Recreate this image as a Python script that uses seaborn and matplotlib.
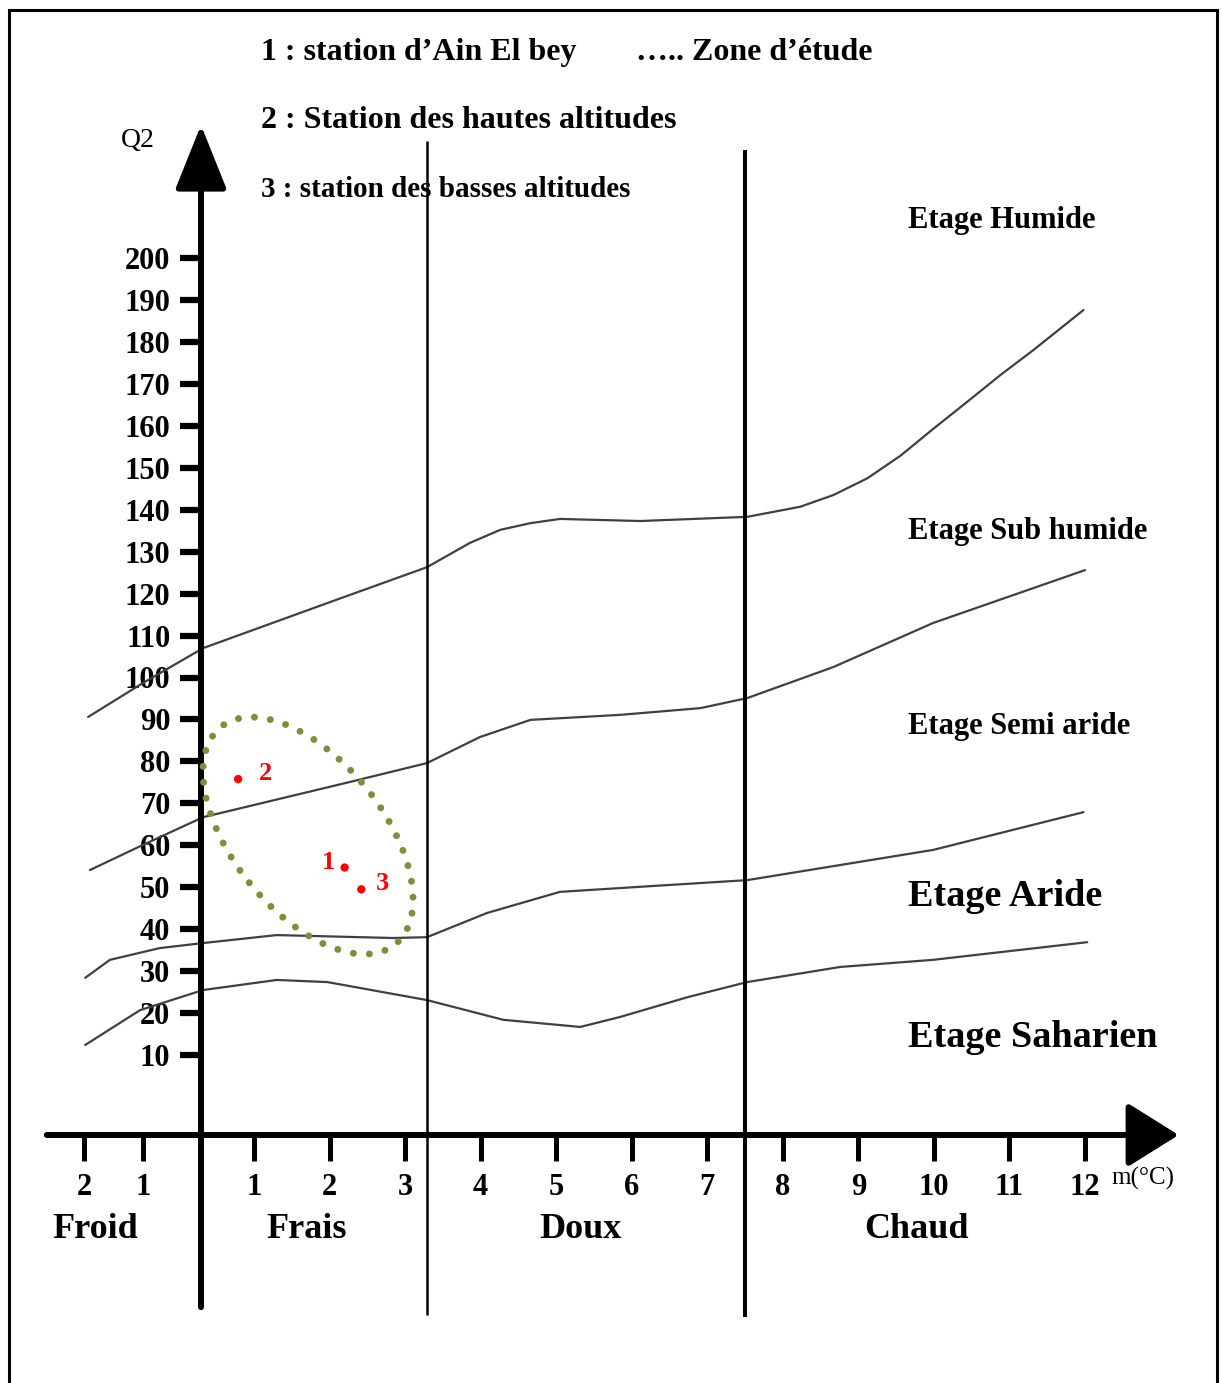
import numpy as np
import pandas as pd
import matplotlib
matplotlib.use("Agg")
import matplotlib.pyplot as plt
from matplotlib import transforms
from matplotlib.patches import Ellipse, Rectangle
import seaborn as sns

# --- Climagramme d'Emberger : limites des étages (m en °C, Q2) ---
m_humide = [-1.93, -1.0, 0.04, 2.01, 3.29, 3.86, 4.26, 4.66, 5.05, 6.11, 7.53,
            8.23, 8.67, 9.12, 9.56, 10.00, 10.44, 10.88, 11.32, 11.98]
q2_humide = [90.6, 98.7, 107.0, 118.0, 126.3, 132.1, 135.2, 136.8, 137.8, 137.3, 138.3,
             140.7, 143.5, 147.5, 152.9, 159.4, 165.7, 172.1, 178.1, 187.6]

m_subhumide = [-1.90, -1.0, 0.04, 2.27, 3.29, 3.99, 4.66, 5.85, 6.91, 7.53, 8.67, 9.99, 12.0]
q2_subhumide = [54.1, 60.1, 66.7, 75.1, 79.6, 85.8, 89.9, 91.1, 92.7, 95.1, 102.5, 113.0, 125.6]

m_semiaride = [-1.98, -1.56, -0.71, 0.04, 1.30, 2.84, 3.29, 4.09, 5.05, 6.28, 7.53, 8.76, 9.99, 11.98]
q2_semiaride = [28.4, 32.7, 35.5, 36.7, 38.6, 37.9, 38.1, 43.9, 48.9, 50.3, 51.7, 55.3, 58.9, 67.9]

m_aride = [-1.98, -1.05, 0.04, 1.30, 1.97, 3.29, 4.30, 5.32, 5.85, 6.74, 7.53, 8.76, 9.99, 12.03]
q2_aride = [12.4, 20.7, 25.5, 27.9, 27.4, 23.1, 18.4, 16.7, 19.1, 23.8, 27.4, 31.0, 32.7, 36.9]

# stations
station_num = ["1", "2", "3"]
station_m = [2.20, 0.70, 2.42]
station_q2 = [54.7, 75.8, 49.5]

# graduations
x_ticks = [-2, -1, 1, 2, 3, 4, 5, 6, 7, 8, 9, 10, 11, 12]
x_ticklabels = ["2", "1", "1", "2", "3", "4", "5", "6", "7", "8", "9", "10", "11", "12"]
y_ticks = list(range(10, 201, 10))

# limites thermiques (variantes de l'hiver)
limites_m = [3.29, 7.50]
variantes = ["Froid", "Frais", "Doux", "Chaud"]
variantes_m = [-1.81, 1.70, 5.32, 9.77]

etages = ["Etage Humide", "Etage Sub humide", "Etage Semi aride", "Etage Aride", "Etage Saharien"]
etages_q2 = [207.2, 133.0, 86.5, 45.5, 11.9]
etages_size = [22, 22, 22, 27.5, 27.5]

sns.set_theme(style="white")
plt.rcParams["font.family"] = ["Liberation Serif", "DejaVu Serif"]
plt.rcParams["text.color"] = "black"

W, H = 1222, 1383
fig = plt.figure(figsize=(W / 100, H / 100), dpi=100)
fig.patch.set_facecolor("white")
ax = fig.add_axes([0, 0, 1, 1])
ax.set_facecolor("white")

# axe des m : pas plus serré du côté des valeurs négatives
KNOT_M = np.array([-60.0, -2.0, -1.0, 0.0, 1.0, 12.0, 60.0])
KNOT_U = np.array([84 - 58 * 59.0, 84.0, 143.0, 201.0, 254.0, 1085.0, 1085 + 48 * 75.545])


def fwd(m):
    return np.interp(m, KNOT_M, KNOT_U)


def inv(u):
    return np.interp(u, KNOT_U, KNOT_M)


ax.set_xscale("function", functions=(fwd, inv))
ax.set_xlim(inv(0), inv(W))
ax.set_ylim(-286 / 4.195, (H - 286) / 4.195)

Y_AXIS = -9.06  # hauteur de l'axe des m

# courbes limites
frames = []
for name, mm, qq in [("humide", m_humide, q2_humide), ("subhumide", m_subhumide, q2_subhumide),
                     ("semiaride", m_semiaride, q2_semiaride), ("aride", m_aride, q2_aride)]:
    frames.append(pd.DataFrame({"m": mm, "Q2": qq, "limite": name}))
courbes = pd.concat(frames, ignore_index=True)
sns.lineplot(data=courbes, x="m", y="Q2", units="limite", estimator=None, sort=False,
             color="#404040", lw=1.6, legend=False, ax=ax, zorder=2)
for ln in ax.lines:
    ln.set_solid_joinstyle("round")

# limites verticales
ax.vlines(limites_m, ymin=[-52.0, -52.5], ymax=[228.0, 225.7], colors="black",
          linewidths=[1.8, 2.9], zorder=3)

# axes fléchés
ax.annotate("", xy=(0, 231.7), xytext=(0, -50.1),
            arrowprops=dict(arrowstyle="-|>,head_length=4.0,head_width=1.6", lw=4.3,
                            color="black", shrinkA=0, shrinkB=0, mutation_scale=10), zorder=4)
ax.annotate("", xy=(13.24, Y_AXIS), xytext=(-2.63, Y_AXIS),
            arrowprops=dict(arrowstyle="-|>,head_length=3.2,head_width=2.0", lw=4.3,
                            color="black", shrinkA=0, shrinkB=0, mutation_scale=10), zorder=4)

for s in ax.spines.values():
    s.set_visible(False)
ax.spines["left"].set_position(("data", 0))
ax.spines["bottom"].set_position(("data", Y_AXIS))

ax.set_xticks(x_ticks)
ax.set_xticklabels(x_ticklabels)
ax.set_yticks(y_ticks)
ax.set_yticklabels([str(v) for v in y_ticks])
ax.tick_params(axis="x", bottom=True, direction="out", length=19, width=3.6, pad=8,
               labelsize=22, color="black", labelcolor="black")
ax.tick_params(axis="y", left=True, direction="out", length=15, width=4.5, pad=7,
               labelsize=22, color="black", labelcolor="black")
for lab in ax.get_xticklabels() + ax.get_yticklabels():
    lab.set_fontweight("bold")
ax.grid(False)

ax.text(-1.08, 228.1, "Q2", fontsize=20, ha="center", va="center", color="black")
ax.text(12.35, -19.3, "m(°C)", fontsize=18, ha="left", va="center", color="black")

for nom, mx in zip(variantes, variantes_m):
    ax.text(mx, -33.6, nom, fontsize=26, fontweight="bold", ha="center", va="baseline")

for nom, q, fs in zip(etages, etages_q2, etages_size):
    ax.text(9.66, q, nom, fontsize=fs, fontweight="bold", ha="left", va="baseline")

# légende
ax.text(1.09, 247.2, "1 : station d’Ain El bey", fontsize=23, fontweight="bold", va="baseline")
ax.text(6.06, 247.2, "….. Zone d’étude", fontsize=23, fontweight="bold", va="baseline")
ax.text(1.09, 230.9, "2 : Station des hautes altitudes", fontsize=23, fontweight="bold", va="baseline")
ax.text(1.09, 214.5, "3 : station des basses altitudes", fontsize=21, fontweight="bold", va="baseline")

# zone d'étude
zone = Ellipse((0, 0), width=2 * 1.393, height=2 * 0.753, angle=-51.3,
               transform=fig.dpi_scale_trans + transforms.ScaledTranslation(1.715, 62.3, ax.transData),
               fill=False, edgecolor="#76923C", lw=5.0, linestyle=(0, (0.01, 2.3)), zorder=5)
zone.set_capstyle("round")
ax.add_patch(zone)

# stations
stations = pd.DataFrame({"m": station_m, "Q2": station_q2, "num": station_num})
sns.scatterplot(data=stations, x="m", y="Q2", color="#FF0000", s=36, edgecolor="none",
                legend=False, ax=ax, zorder=6)
offsets = {"1": (-11.7, 3.6), "2": (19.4, 4.3), "3": (14.9, 4.3)}
for num, mx, q in zip(station_num, station_m, station_q2):
    ax.annotate(num, (mx, q), xytext=offsets[num], textcoords="offset points",
                ha="center", va="center", fontsize=19, fontweight="bold", color="#FF0000")
ax.set_xlabel("")
ax.set_ylabel("")

# cadre
fig.add_artist(Rectangle((9 / W, -0.02), (1217 - 9) / W, (H - 10) / H + 0.02,
                         transform=fig.transFigure, fill=False, lw=2.2, edgecolor="black"))

fig.savefig("out.png", dpi=100, facecolor="white")
